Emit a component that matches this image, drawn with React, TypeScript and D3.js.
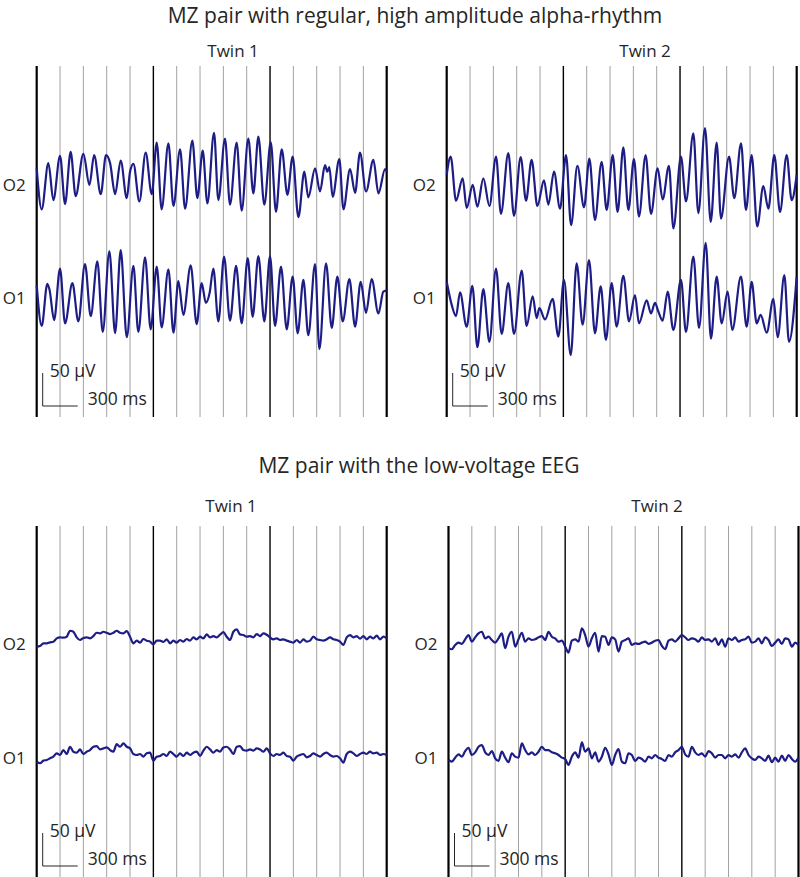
import React from 'react'
import { scaleLinear, line, curveMonotoneX, range } from 'd3'

// alpha traces: [time ms, amplitude µV] read at peaks / troughs
const hiTwin1O2: [number, number][] = [[0,10],[43,-52],[100,18],[143,-38],[200,29],[243,-44],[291,35],[334,-32],[400,32],[452,-15],[492,30],[549,-29],[594,30],[629,18],[672,-29],[720,22],[772,-35],[800,5],[829,17],[880,-40],[934,34],[986,-29],[1029,49],[1071,-52],[1129,48],[1172,-47],[1229,39],[1272,-51],[1334,52],[1377,-35],[1423,37],[1463,-43],[1520,64],[1557,-38],[1614,55],[1657,-45],[1714,49],[1757,-54],[1814,55],[1857,-28],[1900,58],[1951,-45],[2006,50],[2051,-56],[2100,39],[2149,-30],[2194,28],[2243,-64],[2294,5],[2328,-34],[2386,10],[2428,-25],[2471,15],[2491,5],[2508,12],[2537,-33],[2594,24],[2629,-52],[2686,9],[2729,-27],[2771,34],[2823,-25],[2886,23],[2929,-28],[2986,9],[3000,5]]
const hiTwin1O1: [number, number][] = [[0,15],[43,-47],[91,17],[110,8],[149,-38],[200,40],[243,-43],[306,18],[357,-40],[414,47],[463,-32],[520,51],[566,-56],[623,66],[672,-58],[720,68],[772,-64],[829,44],[871,-56],[929,57],[977,-52],[1029,43],[1071,-49],[1129,39],[1172,-57],[1214,21],[1257,-30],[1320,45],[1371,-44],[1414,18],[1450,-12],[1482,3],[1514,40],[1557,-40],[1606,58],[1657,-39],[1709,44],[1757,-43],[1809,56],[1851,-33],[1900,59],[1951,-40],[2000,59],[2043,-47],[2094,43],[2143,-52],[2194,28],[2237,-58],[2286,23],[2328,-61],[2386,47],[2423,-82],[2480,48],[2529,-50],[2577,28],[2623,-40],[2680,24],[2729,-48],[2777,20],[2823,-27],[2871,24],[2929,-28],[2971,5],[3000,7]]
const hiTwin2O2: [number, number][] = [[0,0],[34,28],[80,-39],[137,-5],[171,-50],[223,-15],[263,-48],[314,-5],[366,-47],[423,28],[465,-59],[528,33],[577,-62],[634,27],[680,-39],[728,23],[777,-47],[834,-8],[871,-45],[920,5],[971,-51],[1023,30],[1066,-76],[1120,14],[1177,-49],[1223,25],[1271,-68],[1328,20],[1371,-53],[1423,30],[1465,-56],[1514,42],[1557,-53],[1605,24],[1648,-63],[1705,30],[1751,-59],[1808,10],[1851,-37],[1905,14],[1943,-81],[2008,28],[2051,-40],[2114,63],[2157,-58],[2214,71],[2263,-71],[2314,49],[2351,-66],[2420,28],[2465,-35],[2523,48],[2565,-53],[2614,30],[2662,-78],[2714,-17],[2757,-51],[2808,30],[2857,-56],[2914,30],[2957,-38],[3000,0]]
const hiTwin2O1: [number, number][] = [[0,20],[43,-15],[80,-32],[114,4],[171,-48],[220,14],[263,-79],[314,9],[366,-71],[423,40],[471,-59],[528,18],[577,-59],[643,37],[685,-47],[737,-2],[771,-35],[794,-20],[843,-37],[908,-6],[957,-63],[1005,23],[1063,-91],[1114,48],[1165,-45],[1220,53],[1271,-58],[1320,13],[1365,-68],[1414,18],[1457,-48],[1514,29],[1563,-40],[1614,0],[1648,-43],[1714,-8],[1751,-28],[1785,-12],[1814,-25],[1851,-39],[1894,5],[1943,-53],[2008,23],[2051,-56],[2114,58],[2163,-50],[2220,79],[2265,-66],[2314,28],[2357,-43],[2408,5],[2448,-53],[2522,28],[2571,-48],[2614,20],[2657,-43],[2691,-30],[2743,-57],[2800,-6],[2837,-64],[2894,30],[2934,-71],[3000,28]]

// low-voltage traces: µV, evenly sampled over the 3 s window
const lowTwin1O2 = [-10,-9,-5,-5,-3.5,-2.5,2.5,4,3.5,5,14,12.5,4,0,3,4,2.5,6,11,10,12.5,11,9,11,14,11,10,13.5,5,-5,-1,-4,1.5,-1,-2.5,-6.5,-1,-1,-3,1,-5,-1,-4,0,-2.5,1.5,-1,4,1,5,2.5,8.5,4,6,4,8,12,5,0,12.5,16,8.5,7.5,5,6,4,9,6,10,8,4,1,2.5,0,1,-1,-2.5,-4,0,-4,1,-2.5,-1,5,1,0,-1,1,4,1,0,-2.5,-7.5,4,7.5,4,6,2,6,1,5,2.5,6.5,1,5,2.5]
const lowTwin1O1 = [-10,-12.5,-8.5,-7.5,-5,-2.5,2.5,0,7.5,1.5,12.5,5,3.5,8.5,1.5,5,7.5,12.5,13.5,8.5,10,11.5,7.5,5,16.5,12.5,17.5,12.5,10,1.5,0,1.5,-2.5,2.5,3.5,-8.5,-2.5,-1.5,1.5,-1.5,5,1.5,-2.5,2.5,-1.5,3.5,0,3.5,5,-1.5,6.5,12.5,8.5,3.5,7.5,5,11.5,12.5,8.5,1.5,12.5,13.5,7.5,6.5,8.5,6.5,10,8.5,5,10,2.5,-1.5,1.5,0,3.5,-1.5,-2.5,-8.5,-2.5,0,1.5,-3.5,-1.5,2.5,0,-2.5,1.5,3.5,0,-2.5,-1.5,-5,-11.5,1.5,5,2.5,-1.5,1.5,3.5,1.5,5,2.5,3.5,0,1.5,0]
const lowTwin2O2 = [-12.5,-14,-7.5,-4,-6,1,7.5,-2.5,4,10,12.5,2.5,5,0,-4,2.5,10,-12.5,5,12.5,-10,1,11,-2.5,2.5,0,1,4,6,0,12.5,5,2.5,-2.5,-1,-10,-19,-1,1,-2.5,17.5,7.5,-10,2.5,11,-17.5,6,5,-7.5,4,1,-17.5,-2.5,0,2.5,-7.5,-5,-6,-4,-2.5,-6,-4,-1,0,-9,-14,-1,1,-2.5,2.5,7.5,4,0,2.5,1,-2.5,4,0,1,-2.5,2.5,-7.5,1,-10,2.5,0,4,-2.5,0,1,5,-4,-2.5,2.5,-5,4,0,-9,-4,1,-6,2.5,1,-10,-4,-7.5]
const lowTwin2O1 = [-7.5,-10,-4,1,-2.5,6,11,0,4,12.5,15,4,0,6,-5,-9,5,-4,-11,2.5,-2.5,-4,17.5,7.5,1,4,0,5,12.5,7.5,7.5,4,2.5,0,-4,-6,-15,-2.5,4,-4,19,5,10,-5,4,-10,-2.5,11,1,-15,0,9,-10,-12.5,2.5,0,-9,-4,-6,-10,-2.5,-5,0,-4,-6,-9,0,-2.5,4,7.5,12.5,1,-2.5,12.5,4,0,2.5,-2.5,6,2.5,-4,0,0,-5,0,-2.5,1,-4,4,10,0,-5,-7.5,-2.5,-5,-9,-1,-11,-4,-10,-1,-9,0,-6,-10,-4]

const titles = ['MZ pair with regular, high amplitude alpha-rhythm', 'MZ pair with the low-voltage EEG']
const twinLabels = ['Twin 1', 'Twin 2']
const channels = ['O2', 'O1']
const DURATION = 3000
const gridTicks = range(0, DURATION + 1, 200)
const scaleBarUV = 50
const scaleBarMs = 300

const toPairs = (vals: number[]): [number, number][] =>
  vals.map((v, i) => [(i * DURATION) / (vals.length - 1), v])

const FONT = '"Open Sans", Lato, sans-serif'
const TRACE = '#1d1d85'
const INK = '#262626'

type Panel = {
  left: number; top: number; bottom: number
  twin: string; twinX: number; twinY: number
  rows: { name: string; base: number; labelY: number; data: [number, number][] }[]
}

const panels: Panel[] = [
  { left: 36.7, top: 66, bottom: 417, twin: twinLabels[0], twinX: 233, twinY: 57,
    rows: [{ name: channels[0], base: 175, labelY: 184, data: hiTwin1O2 }, { name: channels[1], base: 295, labelY: 297, data: hiTwin1O1 }] },
  { left: 446.7, top: 66, bottom: 417, twin: twinLabels[1], twinX: 645, twinY: 57,
    rows: [{ name: channels[0], base: 175, labelY: 184, data: hiTwin2O2 }, { name: channels[1], base: 295, labelY: 297, data: hiTwin2O1 }] },
  { left: 36.7, top: 526, bottom: 877, twin: twinLabels[0], twinX: 231, twinY: 512,
    rows: [{ name: channels[0], base: 640, labelY: 643, data: toPairs(lowTwin1O2) }, { name: channels[1], base: 755, labelY: 757, data: toPairs(lowTwin1O1) }] },
  { left: 448.5, top: 526, bottom: 877, twin: twinLabels[1], twinX: 657, twinY: 512,
    rows: [{ name: channels[0], base: 640, labelY: 643, data: toPairs(lowTwin2O2) }, { name: channels[1], base: 755, labelY: 757, data: toPairs(lowTwin2O1) }] },
]

function EegPanel({ p }: { p: Panel }) {
  const x = scaleLinear().domain([0, DURATION]).range([p.left, p.left + 350])
  const pxPerUV = 0.66
  const barX = p.left + 6
  const barBottom = p.bottom - 11
  const barTop = barBottom - scaleBarUV * pxPerUV
  const barRight = barX + (x(scaleBarMs) - x(0))
  return (
    <g>
      <text x={p.twinX} y={p.twinY} textAnchor="middle" fontSize={17} fill={INK}>{p.twin}</text>
      {gridTicks.map(t => {
        const major = t % 1000 === 0
        const edge = t === 0 || t === DURATION
        return (
          <line key={t} x1={x(t)} x2={x(t)} y1={p.top} y2={p.bottom}
            stroke={major ? '#000' : '#a2a2a2'} strokeWidth={edge ? 2.2 : major ? 1.4 : 1} />
        )
      })}
      {p.rows.map(r => {
        const y = scaleLinear().domain([-50, 50]).range([r.base + 50 * pxPerUV, r.base - 50 * pxPerUV])
        const path = line<[number, number]>().x(d => x(d[0])).y(d => y(d[1])).curve(curveMonotoneX)
        return (
          <g key={r.name}>
            <text x={p.left - 11} y={r.labelY} textAnchor="end" dominantBaseline="central" fontSize={17} fill={INK}>{r.name}</text>
            <path d={path(r.data) || ''} fill="none" stroke={TRACE} strokeWidth={2.2} strokeLinejoin="round" />
          </g>
        )
      })}
      <path d={`M${barX},${barTop}V${barBottom}H${barRight}`} fill="none" stroke={INK} strokeWidth={1} />
      <text x={barX + 7} y={barBottom - 29} fontSize={17.5} fill={INK}>50 µV</text>
      <text x={barX + 45} y={barBottom - 1} fontSize={17.5} fill={INK}>300 ms</text>
    </g>
  )
}

export default function App() {
  return (
    <svg width={800} height={877} style={{ position: 'absolute', left: 0, top: 0, background: '#fff' }} fontFamily={FONT}>
      <text x={415} y={23} textAnchor="middle" fontSize={21} fill={INK}>{titles[0]}</text>
      <text x={419} y={473} textAnchor="middle" fontSize={21} fill={INK}>{titles[1]}</text>
      {panels.map((p, i) => <EegPanel key={i} p={p} />)}
    </svg>
  )
}
